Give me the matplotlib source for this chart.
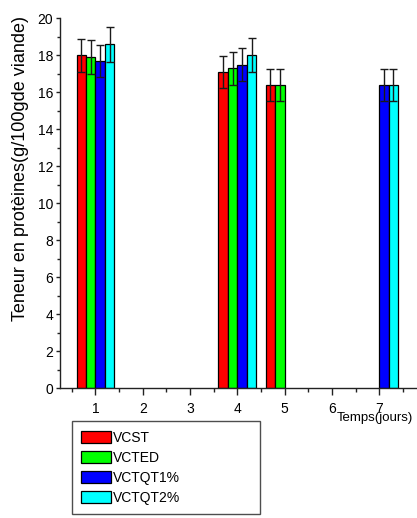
import numpy as np
import matplotlib
matplotlib.use("Agg")
import matplotlib.pyplot as plt

# Protein content of meat samples over storage time
days = [1, 4, 5, 7]
series = ["VCST", "VCTED", "VCTQT1%", "VCTQT2%"]
colors = ["#FF0000", "#00FF00", "#0000FF", "#00FFFF"]

# mean values (g/100 g), NaN where the sample was not measured
vcst = [18.0, 17.1, 16.4, np.nan]
vcted = [17.9, 17.3, 16.4, np.nan]
vctqt1 = [17.7, 17.5, np.nan, 16.4]
vctqt2 = [18.6, 18.0, np.nan, 16.4]

# standard deviations
vcst_err = [0.9, 0.85, 0.85, np.nan]
vcted_err = [0.9, 0.9, 0.85, np.nan]
vctqt1_err = [0.88, 0.88, np.nan, 0.85]
vctqt2_err = [0.95, 0.92, np.nan, 0.85]

values = [vcst, vcted, vctqt1, vctqt2]
errors = [vcst_err, vcted_err, vctqt1_err, vctqt2_err]

x_ticks = [1, 2, 3, 4, 5, 6, 7]
y_ticks = [0, 2, 4, 6, 8, 10, 12, 14, 16, 18, 20]

plt.rcParams["font.family"] = ["Liberation Sans", "DejaVu Sans"]

W, H = 417, 518
fig = plt.figure(figsize=(W / 100, H / 100), dpi=100)
ax = fig.add_axes([60 / W, 1 - 388 / H, (W - 60) / W, (388 - 18.3) / H])

width = 0.2
offsets = [-0.3, -0.1, 0.1, 0.3]
x = np.array(days, dtype=float)
handles = []
for vals, errs, col, off, name in zip(values, errors, colors, offsets, series):
    b = ax.bar(x + off, vals, width=width, color=col, edgecolor="black",
               linewidth=0.9, label=name, zorder=2)
    ax.errorbar(x + off, vals, yerr=errs, fmt="none", ecolor="#1a1a1a",
                elinewidth=1.0, capsize=3, capthick=1.0, zorder=3)
    handles.append(b)

ax.set_xlim(0.25, 7.8)
ax.set_ylim(0, 20)
ax.set_xticks(x_ticks)
ax.set_xticks(np.arange(0.5, 7.8, 0.5), minor=True)
ax.set_yticks(y_ticks)
ax.set_yticks(np.arange(1, 20, 2), minor=True)

for side in ("top", "right"):
    ax.spines[side].set_visible(False)
for side in ("left", "bottom"):
    ax.spines[side].set_linewidth(1.0)
    ax.spines[side].set_color("#222222")

ax.tick_params(axis="x", which="major", direction="out", length=5, width=1,
               pad=5, labelsize=10, colors="#222222")
ax.tick_params(axis="x", which="minor", direction="out", length=3, width=1,
               colors="#222222")
ax.tick_params(axis="y", which="major", direction="out", length=3, width=1,
               pad=2, labelsize=10, colors="#222222")
ax.tick_params(axis="y", which="minor", direction="out", length=2, width=1,
               colors="#222222")
for lab in ax.get_xticklabels() + ax.get_yticklabels():
    lab.set_color("black")

ax.set_ylabel("Teneur en protèines(g/100gde viande)", fontsize=13)
ax.yaxis.set_label_coords(-0.112, 0.595)
ax.yaxis.label.set_va("center")

fig.text(375 / W, 1 - 418 / H, "Temps(jours)", fontsize=9.5,
         ha="center", va="center")

leg = ax.legend(handles=handles, labels=series, loc="upper left",
                bbox_to_anchor=(71.7 / W, 0.0, 188.6 / W, 1 - 421 / H),
                bbox_transform=fig.transFigure, mode="expand",
                borderaxespad=0, fancybox=False, frameon=True,
                prop={"size": 10},
                handlelength=2.1, handleheight=1.0, handletextpad=0.17,
                labelspacing=0.43, borderpad=0.7)
leg.get_frame().set_edgecolor("#222222")
leg.get_frame().set_linewidth(1.0)

fig.savefig("out.png", dpi=100)
